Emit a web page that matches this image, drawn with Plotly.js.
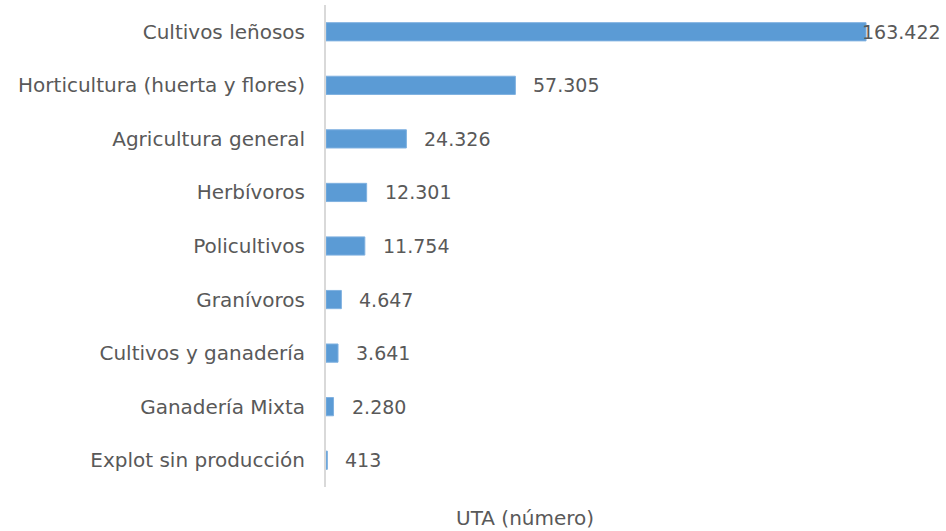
<!DOCTYPE html>
<html>
<head>
<meta charset="utf-8">
<script src="https://cdn.plot.ly/plotly-3.0.1.min.js"></script>
<style>html,body{margin:0;padding:0;background:#fff;}#chart{width:946px;height:531px;}</style>
</head>
<body>
<div id="chart"></div>
<script>
const categories = [
  "Cultivos leñosos",
  "Horticultura (huerta y flores)",
  "Agricultura general",
  "Herbívoros",
  "Policultivos",
  "Granívoros",
  "Cultivos y ganadería",
  "Ganadería Mixta",
  "Explot sin producción"
];
const utaValues = [163422, 57305, 24326, 12301, 11754, 4647, 3641, 2280, 413];
const xTitle = "UTA (número)";

const fontFamily = "'DejaVu Sans', 'Open Sans', sans-serif";
const textColor = "#595959";
const xMax = 173700;
const plotLeft = 326, plotRight = 900;

function fmt(v) {
  return v.toString().replace(/\B(?=(\d{3})+(?!\d))/g, ".");
}

const annotations = utaValues.map((v, i) => {
  const px = plotLeft + v / xMax * (plotRight - plotLeft);
  const overflow = px + 16 + 80 > 946;
  return {
    x: v, y: categories[i], xref: 'x', yref: 'y',
    text: fmt(v), showarrow: false,
    xanchor: 'left', yanchor: 'middle',
    xshift: overflow ? -6 : 16,
    font: {family: fontFamily, size: 19, color: textColor}
  };
});
annotations.push({
  x: (525 - plotLeft) / (plotRight - plotLeft), y: 0, xref: 'paper', yref: 'paper',
  yshift: -31, text: xTitle, showarrow: false, xanchor: 'center', yanchor: 'middle',
  font: {family: fontFamily, size: 20, color: textColor}
});

const trace = {
  type: 'bar', orientation: 'h',
  x: utaValues, y: categories,
  marker: {color: '#5B9BD5', line: {color: '#7FB1E0', width: 1}},
  width: 0.34,
  hoverinfo: 'none'
};

const layout = {
  width: 946, height: 531,
  margin: {l: plotLeft, r: 946 - plotRight, t: 5, b: 44},
  paper_bgcolor: '#fff', plot_bgcolor: '#fff',
  showlegend: false,
  xaxis: {range: [0, xMax], showgrid: false, zeroline: false, showticklabels: false, showline: false, ticks: ''},
  yaxis: {
    autorange: 'reversed', type: 'category',
    showgrid: false, zeroline: false,
    showline: true, linecolor: '#D9D9D9', linewidth: 2,
    ticks: '', ticklabelstandoff: 15,
    tickfont: {family: fontFamily, size: 20, color: textColor}
  },
  annotations: annotations
};

Plotly.newPlot('chart', [trace], layout, {displayModeBar: false, staticPlot: true});
</script>
</body>
</html>
